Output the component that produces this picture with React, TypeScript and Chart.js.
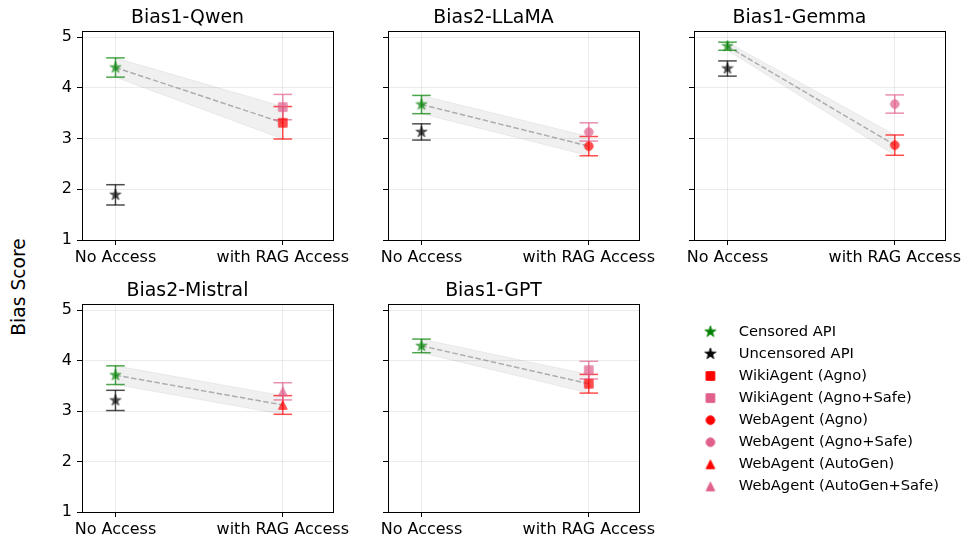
import React, { useEffect, useRef } from "react";
import { Chart, registerables } from "chart.js";

Chart.register(...registerables);

// ---------------- data ----------------
const PANEL_TITLES = ["Bias1-Qwen", "Bias2-LLaMA", "Bias1-Gemma", "Bias2-Mistral", "Bias1-GPT"];
const CATEGORIES = ["No Access", "with RAG Access"];
const Y_TICKS = [1, 2, 3, 4, 5];

const CENSORED_MEAN = [4.4, 3.67, 4.82, 3.71, 4.29];
const CENSORED_ERR = [0.19, 0.18, 0.08, 0.185, 0.135];
const UNCENSORED_MEAN: (number | null)[] = [1.89, 3.13, 4.38, 3.21, null];
const UNCENSORED_ERR: (number | null)[] = [0.2, 0.16, 0.15, 0.2, null];
const AGENT_MEAN = [3.31, 2.85, 2.87, 3.12, 3.54];
const AGENT_ERR = [0.32, 0.19, 0.2, 0.185, 0.185];
const SAFE_MEAN = [3.62, 3.13, 3.68, 3.39, 3.81];
const SAFE_ERR = [0.25, 0.18, 0.18, 0.17, 0.175];
const AGENT_SHAPE = ["square", "circle", "circle", "triangle", "square"];

const LEGEND_LABELS = [
  "Censored API",
  "Uncensored API",
  "WikiAgent (Agno)",
  "WikiAgent (Agno+Safe)",
  "WebAgent (Agno)",
  "WebAgent (Agno+Safe)",
  "WebAgent (AutoGen)",
  "WebAgent (AutoGen+Safe)",
];
const LEGEND_SHAPES = ["star", "star", "square", "square", "circle", "circle", "triangle", "triangle"];

// ---------------- styles ----------------
const FONT = "DejaVu Sans";
const GREEN = "#008000";
const BLACK = "#000000";
const RED = "#ff0000";
const PINK = "#e0608c";
const LEGEND_COLORS = [GREEN, BLACK, RED, PINK, RED, PINK, RED, PINK];
const GRID = "rgba(176,176,176,0.32)";
const BAND = "rgba(128,128,128,0.12)";
const DASH = "rgba(128,128,128,0.6)";
const ALPHA = 0.7;

// ---------------- layout ----------------
type Box = { l: number; t: number; w: number; h: number };
const PANEL_BOXES: Box[] = [
  { l: 82, t: 32, w: 251, h: 208 },
  { l: 388, t: 32, w: 251, h: 208 },
  { l: 694, t: 32, w: 251, h: 208 },
  { l: 82, t: 305, w: 251, h: 207 },
  { l: 388, t: 305, w: 251, h: 207 },
];
const SIDE = 40;
const TITLE_H = 32;
const XAXIS_H = 30;

function withAlpha(hex: string, a: number) {
  const n = parseInt(hex.slice(1), 16);
  return `rgba(${(n >> 16) & 255},${(n >> 8) & 255},${n & 255},${a})`;
}

function makeMarker(shape: string, color: string, alpha: number): HTMLCanvasElement {
  const size = shape === "star" ? 11.5 : 8.6;
  const dim = 16;
  const base = document.createElement("canvas");
  base.width = dim;
  base.height = dim;
  const c = base.getContext("2d")!;
  const cx = dim / 2;
  const cy = dim / 2;
  const r = size / 2;
  c.beginPath();
  if (shape === "circle") {
    c.arc(cx, cy, r, 0, Math.PI * 2);
  } else if (shape === "square") {
    c.rect(cx - r, cy - r, 2 * r, 2 * r);
  } else if (shape === "triangle") {
    c.moveTo(cx, cy - r);
    c.lineTo(cx + r, cy + r);
    c.lineTo(cx - r, cy + r);
    c.closePath();
  } else {
    for (let k = 0; k < 10; k++) {
      const rr = k % 2 === 0 ? r : r * 0.381966;
      const a = -Math.PI / 2 + (k * Math.PI) / 5;
      const px = cx + rr * Math.cos(a);
      const py = cy + rr * Math.sin(a);
      if (k === 0) c.moveTo(px, py);
      else c.lineTo(px, py);
    }
    c.closePath();
  }
  c.fillStyle = color;
  c.strokeStyle = color;
  c.lineWidth = 1;
  c.lineJoin = "miter";
  c.fill();
  c.stroke();
  if (alpha >= 1) return base;
  const out = document.createElement("canvas");
  out.width = dim;
  out.height = dim;
  const o = out.getContext("2d")!;
  o.globalAlpha = alpha;
  o.drawImage(base, 0, 0);
  return out;
}

function seriesDatasets(x: number, mean: number, err: number, color: string, shape: string) {
  const col = withAlpha(color, ALPHA);
  return [
    {
      data: [
        { x, y: mean - err },
        { x, y: mean + err },
      ],
      showLine: true,
      borderColor: col,
      borderWidth: 1.5,
      pointStyle: "line",
      pointRadius: 9.3,
      pointBorderWidth: 1.5,
      pointBorderColor: col,
      pointBackgroundColor: "transparent",
      order: 2,
      xAxisID: "x",
      yAxisID: "y",
    },
    {
      data: [{ x, y: mean }],
      showLine: false,
      pointStyle: makeMarker(shape, color, ALPHA),
      pointRadius: 5,
      order: 1,
      xAxisID: "x",
      yAxisID: "y",
    },
  ];
}

function buildConfig(idx: number): any {
  const c = CENSORED_MEAN[idx];
  const ce = CENSORED_ERR[idx];
  const r = AGENT_MEAN[idx];
  const re = AGENT_ERR[idx];
  const datasets: any[] = [
    {
      data: [
        { x: 0, y: c + ce },
        { x: 1, y: r + re },
      ],
      showLine: true,
      fill: "+1",
      backgroundColor: BAND,
      borderColor: BAND,
      borderWidth: 1,
      pointRadius: 0,
      order: 5,
      xAxisID: "x",
      yAxisID: "y",
    },
    {
      data: [
        { x: 0, y: c - ce },
        { x: 1, y: r - re },
      ],
      showLine: true,
      fill: false,
      borderColor: BAND,
      borderWidth: 1,
      pointRadius: 0,
      order: 5,
      xAxisID: "x",
      yAxisID: "y",
    },
    {
      data: [
        { x: 0, y: c },
        { x: 1, y: r },
      ],
      showLine: true,
      borderColor: DASH,
      borderWidth: 1.5,
      borderDash: [5.5, 2.4],
      pointRadius: 0,
      order: 4,
      xAxisID: "x",
      yAxisID: "y",
    },
  ];
  datasets.push(...seriesDatasets(0, c, ce, GREEN, "star"));
  const um = UNCENSORED_MEAN[idx];
  const ue = UNCENSORED_ERR[idx];
  if (um != null && ue != null) datasets.push(...seriesDatasets(0, um, ue, BLACK, "star"));
  datasets.push(...seriesDatasets(1, SAFE_MEAN[idx], SAFE_ERR[idx], PINK, AGENT_SHAPE[idx]));
  datasets.push(...seriesDatasets(1, r, re, RED, AGENT_SHAPE[idx]));

  const showY = idx === 0 || idx === 3;
  const tickFont = { family: FONT, size: 16 };
  const frame = { display: true, color: "#000", width: 1 };

  return {
    type: "scatter",
    data: { datasets },
    options: {
      animation: false,
      responsive: false,
      events: [],
      layout: { padding: { left: 0, right: SIDE, top: 0, bottom: 0 } },
      plugins: {
        legend: { display: false },
        tooltip: { enabled: false },
        title: {
          display: true,
          text: PANEL_TITLES[idx],
          color: "#000",
          font: { family: FONT, size: 18.9, weight: "normal", lineHeight: 1.2 },
          padding: { top: 7.2, bottom: 2.12 },
        },
      },
      scales: {
        x: {
          type: "linear",
          position: "bottom",
          min: -0.2,
          max: 1.3,
          afterBuildTicks: (s: any) => {
            s.ticks = CATEGORIES.map((_, i) => ({ value: i }));
          },
          afterFit: (s: any) => {
            s.height = XAXIS_H;
          },
          ticks: {
            callback: (v: any) => CATEGORIES[v] ?? "",
            font: tickFont,
            color: "#000",
            autoSkip: false,
            maxRotation: 0,
            padding: 3,
          },
          grid: { color: GRID, lineWidth: 0.8, tickColor: "#000", tickLength: 5, tickWidth: 1 },
          border: frame,
        },
        y: {
          type: "linear",
          position: "left",
          min: 1,
          max: 5.1,
          afterBuildTicks: (s: any) => {
            s.ticks = Y_TICKS.map((v) => ({ value: v }));
          },
          afterFit: (s: any) => {
            s.width = SIDE;
          },
          ticks: {
            callback: (v: any) => (showY ? String(v) : ""),
            font: tickFont,
            color: "#000",
            padding: 5,
          },
          grid: { color: GRID, lineWidth: 0.8, tickColor: "#000", tickLength: 5, tickWidth: 1 },
          border: frame,
        },
        x2: {
          type: "linear",
          position: "top",
          display: true,
          ticks: { display: false },
          grid: { display: false, drawTicks: false },
          border: frame,
          afterFit: (s: any) => {
            s.height = 0;
          },
        },
        y2: {
          type: "linear",
          position: "right",
          display: true,
          ticks: { display: false },
          grid: { display: false, drawTicks: false },
          border: frame,
          afterFit: (s: any) => {
            s.width = 0;
          },
        },
      },
    },
  };
}

function Panel({ idx }: { idx: number }) {
  const ref = useRef<HTMLCanvasElement>(null);
  useEffect(() => {
    const chart = new Chart(ref.current!, buildConfig(idx));
    return () => chart.destroy();
  }, [idx]);
  const b = PANEL_BOXES[idx];
  const w = b.w + 2 * SIDE;
  const h = TITLE_H + b.h + XAXIS_H;
  return (
    <canvas
      ref={ref}
      width={w}
      height={h}
      style={{ position: "absolute", left: b.l - SIDE, top: b.t - TITLE_H, width: w, height: h }}
    />
  );
}

function LegendChart() {
  const ref = useRef<HTMLCanvasElement>(null);
  useEffect(() => {
    const imgs = LEGEND_SHAPES.map((s, i) => makeMarker(s, LEGEND_COLORS[i], 1));
    const chart = new Chart(ref.current!, {
      type: "scatter",
      data: {
        datasets: LEGEND_LABELS.map((label, i) => ({
          label,
          data: [],
          pointStyle: imgs[i] as any,
        })),
      },
      options: {
        animation: false,
        responsive: false,
        events: [],
        layout: { padding: 0 },
        scales: { x: { display: false }, y: { display: false } },
        plugins: {
          tooltip: { enabled: false },
          legend: {
            display: true,
            position: "top",
            align: "start",
            labels: {
              usePointStyle: true,
              pointStyleWidth: 42,
              boxHeight: 14,
              padding: 7.4,
              color: "#000",
              font: { family: FONT, size: 14.7 },
              generateLabels: () =>
                LEGEND_LABELS.map((text, i) => ({
                  text,
                  pointStyle: imgs[i] as any,
                  fillStyle: "transparent",
                  strokeStyle: "transparent",
                  lineWidth: 0,
                  hidden: false,
                  datasetIndex: i,
                  fontColor: "#000",
                })),
            },
          },
        },
      } as any,
    });
    return () => chart.destroy();
  }, []);
  return (
    <canvas
      ref={ref}
      width={290}
      height={480}
      style={{ position: "absolute", left: 682, top: 317, width: 290, height: 480 }}
    />
  );
}

export default function App() {
  return (
    <div
      style={{
        position: "absolute",
        left: 0,
        top: 0,
        width: 972,
        height: 548,
        overflow: "hidden",
        background: "#fff",
      }}
    >
      {PANEL_TITLES.map((_, i) => (
        <Panel key={i} idx={i} />
      ))}
      <LegendChart />
      <div
        style={{
          position: "absolute",
          left: 19,
          top: 287,
          transform: "translate(-50%, -50%) rotate(-90deg)",
          fontFamily: FONT,
          fontSize: 18.7,
          lineHeight: 1,
          whiteSpace: "nowrap",
          color: "#000",
        }}
      >
        Bias Score
      </div>
    </div>
  );
}
